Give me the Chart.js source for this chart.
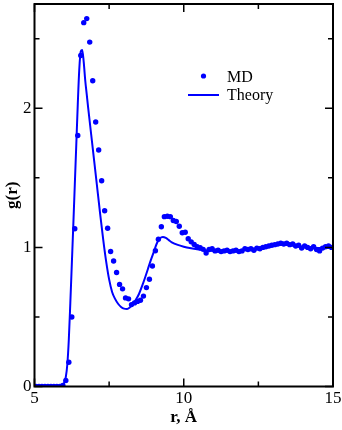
<!DOCTYPE html>
<html><head><meta charset="utf-8">
<script src="https://cdn.jsdelivr.net/npm/chart.js@4.4.1/dist/chart.umd.min.js"></script>
<style>html,body{margin:0;padding:0;background:#fff}canvas{display:block}</style>
</head><body>
<canvas id="c" width="342" height="430"></canvas>
<script>
// ---- data ----
const seriesLabels = ['MD', 'Theory'];
const xTitle = 'r, Å';
const yTitle = 'g(r)';
const xTickValues = [5, 10, 15];
const xMinorTicks = [7.5, 12.5];
const yTickValues = [0, 1, 2];
const yMinorTicks = [0.5, 1.5, 2.5];

const mdR = [5.05,5.15,5.25,5.35,5.45,5.55,5.65,5.75,5.85,5.95,
  6.05,6.15,6.25,6.35,6.45,6.55,6.65,6.75,6.85,6.95,
  7.05,7.15,7.25,7.35,7.45,7.55,7.65,7.75,7.85,7.95,
  8.05,8.15,8.25,8.35,8.45,8.55,8.65,8.75,8.85,8.95,
  9.05,9.15,9.25,9.35,9.45,9.55,9.65,9.75,9.85,9.95,
  10.05,10.15,10.25,10.35,10.45,10.55,10.65,10.75,10.85,10.95,
  11.05,11.15,11.25,11.35,11.45,11.55,11.65,11.75,11.85,11.95,
  12.05,12.15,12.25,12.35,12.45,12.55,12.65,12.75,12.85,12.95,
  13.05,13.15,13.25,13.35,13.45,13.55,13.65,13.75,13.85,13.95,
  14.05,14.15,14.25,14.35,14.45,14.55,14.65,14.75,14.85,14.95];
const mdG = [0,0,0,0,0,0,0,0,0,0.008,
  0.043,0.174,0.50,1.134,1.805,2.38,2.616,2.645,2.476,2.198,
  1.902,1.70,1.479,1.264,1.138,0.971,0.902,0.82,0.734,0.702,
  0.637,0.63,0.589,0.601,0.612,0.62,0.65,0.711,0.771,0.866,
  0.976,1.059,1.149,1.221,1.224,1.221,1.193,1.186,1.152,1.105,
  1.109,1.062,1.04,1.021,1.005,0.998,0.986,0.96,0.985,0.99,
  0.975,0.98,0.97,0.975,0.98,0.97,0.975,0.98,0.97,0.975,
  0.99,0.985,0.99,0.98,0.995,0.99,1.0,1.005,1.01,1.015,
  1.02,1.025,1.03,1.025,1.03,1.02,1.025,1.01,1.015,0.995,
  1.01,1.0,0.99,1.005,0.985,0.975,0.995,1.005,1.01,1.0];

const thR = [5.0,5.5,5.8,5.9,5.95,6.0,6.05,6.1,6.15,6.2,6.25,6.3,6.35,6.4,6.45,6.5,6.55,6.6,6.65,6.7,6.75,6.8,
  6.9,7.0,7.1,7.2,7.3,7.4,7.5,7.6,7.7,7.8,7.9,8.0,8.1,8.2,8.3,8.4,8.5,8.6,8.7,8.8,8.9,9.0,9.1,9.2,9.3,9.4,9.5,9.6,
  9.8,10.0,10.2,10.5,11.0,11.5,12.0,12.5,13.0,13.3,13.6,14.0,14.5,15.0];
const thG = [0,0,0,0.003,0.01,0.03,0.07,0.16,0.34,0.60,0.88,1.16,1.45,1.74,2.03,2.28,2.41,2.42,2.33,2.20,2.10,2.00,
  1.81,1.62,1.43,1.24,1.06,0.90,0.77,0.68,0.63,0.595,0.572,0.56,0.558,0.57,0.592,0.625,0.665,0.72,0.78,0.845,0.91,0.97,1.03,1.065,1.075,1.068,1.052,1.037,
  1.018,1.005,0.995,0.985,0.975,0.975,0.98,0.995,1.015,1.02,1.015,1.005,0.995,0.995];

// ---- styling ----
const BLUE = '#0000ff';
const SERIF = "'Liberation Serif', 'DejaVu Serif', serif";

const framePlugin = {
  id: 'frame',
  afterDatasetsDraw(chart) {
    const {ctx, chartArea: a, scales: {x, y}} = chart;
    ctx.save();
    ctx.strokeStyle = '#000';
    ctx.lineWidth = 2;
    ctx.strokeRect(a.left, a.top, a.right - a.left, a.bottom - a.top);
    ctx.lineWidth = 1.5;
    ctx.beginPath();
    const tx = (v, len) => {
      const p = x.getPixelForValue(v);
      ctx.moveTo(p, a.bottom); ctx.lineTo(p, a.bottom - len);
      ctx.moveTo(p, a.top); ctx.lineTo(p, a.top + len);
    };
    const ty = (v, len) => {
      const p = y.getPixelForValue(v);
      ctx.moveTo(a.left, p); ctx.lineTo(a.left + len, p);
      ctx.moveTo(a.right, p); ctx.lineTo(a.right - len, p);
    };
    xTickValues.forEach(v => tx(v, 8));
    xMinorTicks.forEach(v => tx(v, 5));
    yTickValues.forEach(v => ty(v, 8));
    yMinorTicks.forEach(v => ty(v, 5));
    ctx.stroke();
    ctx.restore();
  }
};

const legendPlugin = {
  id: 'customLegend',
  afterDraw(chart) {
    const {ctx} = chart;
    ctx.save();
    ctx.fillStyle = BLUE;
    ctx.beginPath();
    ctx.arc(203.5, 76, 2.6, 0, Math.PI * 2);
    ctx.fill();
    ctx.strokeStyle = BLUE;
    ctx.lineWidth = 2;
    ctx.beginPath();
    ctx.moveTo(188, 95); ctx.lineTo(219, 95);
    ctx.stroke();
    ctx.fillStyle = '#000';
    ctx.font = '16px ' + SERIF;
    ctx.textBaseline = 'alphabetic';
    ctx.textAlign = 'left';
    ctx.fillText(chart.data.datasets[0].label, 227, 82);
    ctx.fillText(chart.data.datasets[1].label, 227, 100);
    ctx.restore();
  }
};

const noPad = s => { s.paddingTop = 0; s.paddingBottom = 0; s.paddingLeft = 0; s.paddingRight = 0; };

new Chart(document.getElementById('c'), {
  data: {
    datasets: [
      {
        type: 'scatter',
        label: seriesLabels[0],
        data: mdR.map((r, i) => ({x: r, y: mdG[i]})),
        pointRadius: 2.7,
        pointBorderWidth: 0,
        pointBackgroundColor: BLUE,
        pointBorderColor: BLUE,
        order: 1
      },
      {
        type: 'line',
        label: seriesLabels[1],
        data: thR.map((r, i) => ({x: r, y: thG[i]})),
        borderColor: BLUE,
        borderWidth: 2,
        pointRadius: 0,
        fill: false,
        cubicInterpolationMode: 'monotone',
        order: 2
      }
    ]
  },
  options: {
    responsive: false,
    animation: false,
    devicePixelRatio: 1,
    layout: {padding: {top: 2, right: 9, left: 0, bottom: 0}},
    plugins: {legend: {display: false}, tooltip: {enabled: false}},
    scales: {
      x: {
        type: 'linear', position: 'bottom', min: 5, max: 15,
        afterBuildTicks: s => { s.ticks = xTickValues.map(v => ({value: v})); },
        afterFit: s => { s.height = 43.5; noPad(s); },
        grid: {display: false, drawTicks: false, tickLength: 0},
        border: {display: false},
        ticks: {color: '#000', font: {family: SERIF, size: 17}, padding: 2, maxRotation: 0, autoSkip: false},
        title: {display: true, text: xTitle, color: '#000', font: {family: SERIF, size: 17, weight: 'bold'}, padding: {top: 0, bottom: 2}}
      },
      y: {
        type: 'linear', position: 'left', min: 0, max: 2.75,
        afterBuildTicks: s => { s.ticks = yTickValues.map(v => ({value: v})); },
        afterFit: s => { s.width = 34.5; noPad(s); },
        grid: {display: false, drawTicks: false, tickLength: 0},
        border: {display: false},
        ticks: {color: '#000', font: {family: SERIF, size: 17}, padding: 3},
        title: {display: true, text: yTitle, color: '#000', font: {family: SERIF, size: 17, weight: 'bold'}, padding: {top: 2, bottom: 0}}
      }
    }
  },
  plugins: [framePlugin, legendPlugin]
});
</script>
</body></html>
